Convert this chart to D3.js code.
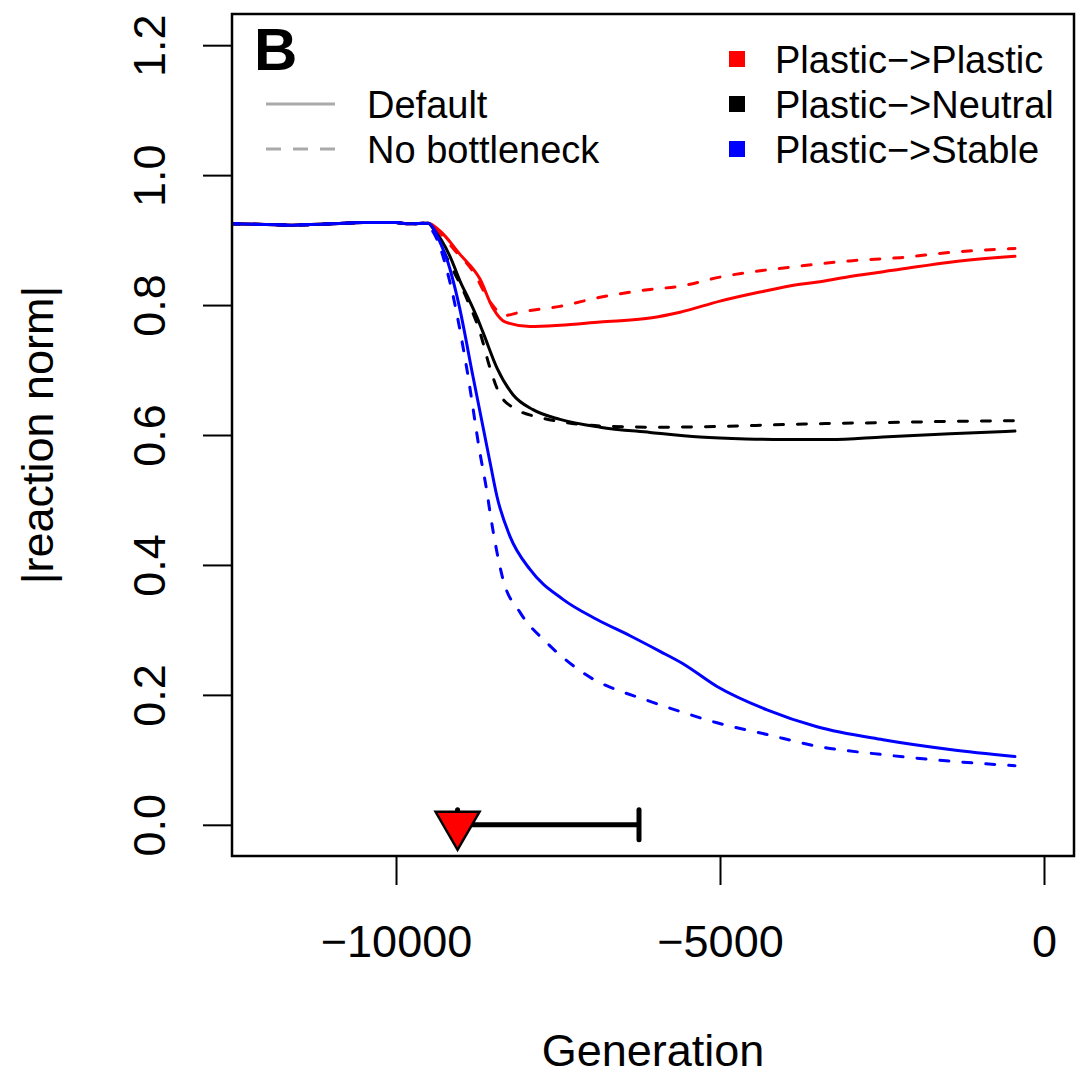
<!DOCTYPE html>
<html>
<head>
<meta charset="utf-8">
<script src="https://cdn.jsdelivr.net/npm/d3@7"></script>
<style>
  html, body { margin: 0; padding: 0; background: #fff; }
  svg { display: block; font-family: "Liberation Sans", Arial, Helvetica, sans-serif; }
</style>
</head>
<body>
<svg id="chart" width="1076" height="1077"></svg>
<script>
// ---------------- data ----------------
const xTicks = [-10000, -5000, 0];
const yTicks = [0, 0.2, 0.4, 0.6, 0.8, 1.0, 1.2];
const xTitle = "Generation";
const yTitle = "|reaction norm|";
const panelLabel = "B";

const seriesNames = ["Plastic\u2212>Plastic", "Plastic\u2212>Neutral", "Plastic\u2212>Stable"];
const seriesColors = ["#ff0000", "#000000", "#0000ff"];
const scenarioNames = ["Default", "No bottleneck"];

// common pre-bottleneck plateau [generation, value]
const plateau = [[-12550, 0.925], [-12000, 0.924], [-11600, 0.923], [-11000, 0.925],
                 [-10500, 0.927], [-10000, 0.927], [-9800, 0.925], [-9500, 0.926]];

const redDefault = [[-9321, 0.914], [-9012, 0.878], [-8704, 0.840], [-8503, 0.795], [-8318, 0.774],
  [-7932, 0.767], [-7469, 0.769], [-6852, 0.774], [-6080, 0.780], [-5617, 0.789], [-5000, 0.806],
  [-4383, 0.820], [-3765, 0.832], [-3457, 0.836], [-2994, 0.844], [-2222, 0.855], [-1451, 0.866], [-448, 0.875]];
const redNoBottleneck = [[-9367, 0.915], [-9100, 0.885], [-8800, 0.850], [-8550, 0.805], [-8318, 0.784],
  [-8086, 0.789], [-7469, 0.798], [-6852, 0.812], [-6080, 0.824], [-5617, 0.829], [-5000, 0.843],
  [-3765, 0.860], [-2994, 0.868], [-2222, 0.873], [-1451, 0.881], [-448, 0.887]];

const blackDefault = [[-9429, 0.918], [-9300, 0.900], [-9167, 0.875], [-9012, 0.837], [-8858, 0.805],
  [-8750, 0.781], [-8657, 0.758], [-8441, 0.703], [-8194, 0.662], [-7886, 0.639], [-7469, 0.624],
  [-6852, 0.612], [-6080, 0.604], [-5309, 0.597], [-4600, 0.594], [-4028, 0.593], [-3302, 0.593],
  [-2485, 0.597], [-1451, 0.602], [-448, 0.606]];
const blackNoBottleneck = [[-9429, 0.915], [-9213, 0.872], [-8904, 0.809], [-8704, 0.758], [-8549, 0.703],
  [-8395, 0.662], [-8133, 0.639], [-7778, 0.627], [-7361, 0.619], [-6852, 0.614], [-6080, 0.612],
  [-5046, 0.613], [-4028, 0.616], [-3194, 0.618], [-2485, 0.619], [-1451, 0.621], [-448, 0.622]];

const blueDefault = [[-9420, 0.918], [-9321, 0.897], [-9213, 0.870], [-9028, 0.800], [-8812, 0.690],
  [-8549, 0.558], [-8441, 0.505], [-8241, 0.444], [-7932, 0.393], [-7423, 0.347], [-6898, 0.316],
  [-6389, 0.291], [-5926, 0.267], [-5571, 0.248], [-5046, 0.213], [-4275, 0.177], [-3503, 0.151],
  [-2485, 0.131], [-1451, 0.116], [-448, 0.105]];
const blueNoBottleneck = [[-9440, 0.915], [-9367, 0.901], [-9167, 0.835], [-8904, 0.700], [-8704, 0.572],
  [-8596, 0.512], [-8549, 0.481], [-8349, 0.378], [-8086, 0.327], [-7670, 0.280], [-7114, 0.234],
  [-6080, 0.190], [-5571, 0.173], [-5046, 0.157], [-4275, 0.139], [-3503, 0.121], [-2485, 0.108],
  [-1451, 0.098], [-448, 0.091]];

// bottleneck marker and interval
const bottleneckStart = -9050;
const bottleneckEnd = -6250;
const bottleneckLevel = 0;

// ---------------- drawing ----------------
const svg = d3.select("#chart");
const L = 232, R = 1074, T = 14, B = 856;
const x = d3.scaleLinear().domain([-12531, 463]).range([L, R]);
const y = d3.scaleLinear().domain([-0.048, 1.248]).range([B, T]);

svg.append("defs").append("clipPath").attr("id", "plotclip")
  .append("rect").attr("x", L).attr("y", T).attr("width", R - L).attr("height", B - T);

const line = d3.line().x(d => x(d[0])).y(d => y(d[1])).curve(d3.curveMonotoneX);
const plot = svg.append("g").attr("clip-path", "url(#plotclip)");

const dash = "9,14";
const series = [
  {data: redDefault, color: seriesColors[0], dashed: false},
  {data: redNoBottleneck, color: seriesColors[0], dashed: true},
  {data: blackDefault, color: seriesColors[1], dashed: false},
  {data: blackNoBottleneck, color: seriesColors[1], dashed: true},
  {data: blueDefault, color: seriesColors[2], dashed: false},
  {data: blueNoBottleneck, color: seriesColors[2], dashed: true}
];
series.forEach(s => {
  plot.append("path")
    .attr("d", line(plateau.concat(s.data)))
    .attr("fill", "none")
    .attr("stroke", s.color)
    .attr("stroke-width", 3)
    .attr("stroke-linecap", "round")
    .attr("stroke-linejoin", "round")
    .attr("stroke-dasharray", s.dashed ? dash : null);
});

// bottleneck interval bar
const by = y(bottleneckLevel);
svg.append("line").attr("x1", x(bottleneckStart)).attr("x2", x(bottleneckEnd))
  .attr("y1", by).attr("y2", by).attr("stroke", "#000").attr("stroke-width", 5);
[bottleneckStart, bottleneckEnd].forEach(g => {
  svg.append("line").attr("x1", x(g)).attr("x2", x(g)).attr("y1", by - 15).attr("y2", by + 15)
    .attr("stroke", "#000").attr("stroke-width", 5).attr("stroke-linecap", "round");
});
const tx = x(bottleneckStart);
svg.append("path")
  .attr("d", `M${tx - 22},${by - 13}L${tx + 22},${by - 13}L${tx},${by + 25}Z`)
  .attr("fill", "#ff0000").attr("stroke", "#000").attr("stroke-width", 2.5).attr("stroke-linejoin", "miter");

// box
svg.append("rect").attr("x", L).attr("y", T).attr("width", R - L).attr("height", B - T)
  .attr("fill", "none").attr("stroke", "#000").attr("stroke-width", 2.5);

// x axis
const fmtX = d => (d < 0 ? "\u2212" + Math.abs(d) : String(d));
const xAxis = svg.append("g").attr("transform", `translate(0,${B})`)
  .call(d3.axisBottom(x).tickValues(xTicks).tickSize(29).tickSizeOuter(0).tickFormat(fmtX));
xAxis.select(".domain").remove();
xAxis.selectAll(".tick line").attr("stroke", "#000").attr("stroke-width", 2);
xAxis.selectAll(".tick text").attr("y", 101).attr("dy", null)
  .attr("font-size", 45).attr("fill", "#000").attr("font-family", "Liberation Sans, Arial, sans-serif");

// y axis
const yAxis = svg.append("g").attr("transform", `translate(${L},0)`)
  .call(d3.axisLeft(y).tickValues(yTicks).tickSize(29).tickSizeOuter(0).tickFormat(d3.format(".1f")));
yAxis.select(".domain").remove();
yAxis.selectAll(".tick line").attr("stroke", "#000").attr("stroke-width", 2);
yAxis.selectAll(".tick text")
  .attr("x", 0).attr("y", -67).attr("dy", null)
  .attr("transform", "rotate(-90)")
  .attr("text-anchor", "middle")
  .attr("font-size", 45).attr("fill", "#000").attr("font-family", "Liberation Sans, Arial, sans-serif");

// axis titles
svg.append("text").attr("x", (L + R) / 2).attr("y", 1066).attr("text-anchor", "middle")
  .attr("font-size", 45).text(xTitle);
svg.append("text").attr("transform", `translate(53,${(T + B) / 2}) rotate(-90)`)
  .attr("text-anchor", "middle").attr("font-size", 45).text(yTitle);

// panel label
svg.append("text").attr("x", 254).attr("y", 70).attr("font-size", 60).attr("font-weight", "bold").text(panelLabel);

// legend: scenarios (line types)
const rowY = [59, 104, 149];
scenarioNames.forEach((name, i) => {
  const ly = rowY[i + 1];
  svg.append("line").attr("x1", 266).attr("x2", 335).attr("y1", ly).attr("y2", ly)
    .attr("stroke", "#aaaaaa").attr("stroke-width", 3)
    .attr("stroke-dasharray", i === 1 ? "15,12" : null);
  svg.append("text").attr("x", 367).attr("y", ly + 13.5).attr("font-size", 38).text(name);
});

// legend: series (colours)
seriesNames.forEach((name, i) => {
  const ly = rowY[i];
  svg.append("rect").attr("x", 729).attr("y", ly - 8).attr("width", 16).attr("height", 16)
    .attr("fill", seriesColors[i]);
  svg.append("text").attr("x", 775).attr("y", ly + 13.5).attr("font-size", 38).text(name);
});
</script>
</body>
</html>
